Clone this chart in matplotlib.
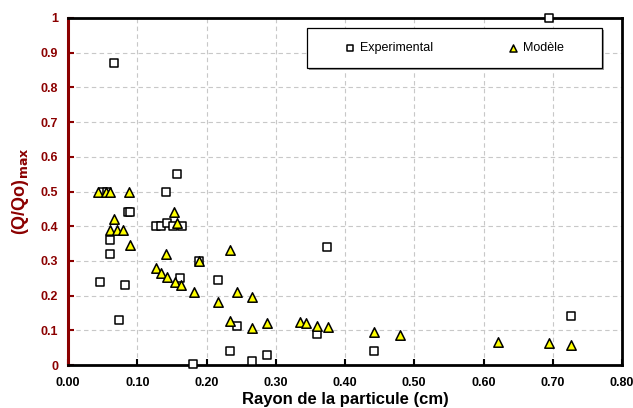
import matplotlib
matplotlib.use("Agg")
import matplotlib.pyplot as plt
from matplotlib.ticker import FixedLocator
from matplotlib.patches import Rectangle

plt.rcParams['font.family'] = ['Liberation Sans', 'DejaVu Sans']

# Experimental data (squares)
exp_x = [0.046, 0.067, 0.051, 0.056, 0.086, 0.090, 0.061, 0.060, 0.082, 0.073,
         0.142, 0.157, 0.127, 0.134, 0.143, 0.151, 0.165, 0.189, 0.162, 0.216,
         0.244, 0.234, 0.265, 0.287, 0.181, 0.374, 0.360, 0.442, 0.727, 0.695]
exp_y = [0.24, 0.87, 0.50, 0.50, 0.44, 0.44, 0.36, 0.32, 0.23, 0.13,
         0.50, 0.55, 0.40, 0.40, 0.41, 0.40, 0.40, 0.30, 0.25, 0.245,
         0.112, 0.04, 0.012, 0.03, 0.004, 0.34, 0.09, 0.04, 0.14, 1.0]

# Model data (triangles)
mod_x = [0.044, 0.055, 0.060, 0.088, 0.067, 0.061, 0.071, 0.080, 0.090, 0.142,
         0.153, 0.157, 0.127, 0.134, 0.143, 0.154, 0.163, 0.182, 0.189, 0.216,
         0.234, 0.244, 0.265, 0.234, 0.265, 0.287, 0.335, 0.343, 0.360, 0.375,
         0.442, 0.479, 0.621, 0.694, 0.727]
mod_y = [0.50, 0.50, 0.50, 0.50, 0.42, 0.39, 0.39, 0.39, 0.345, 0.32,
         0.44, 0.41, 0.28, 0.265, 0.255, 0.24, 0.23, 0.21, 0.30, 0.182,
         0.33, 0.21, 0.195, 0.128, 0.107, 0.12, 0.125, 0.12, 0.113, 0.11,
         0.095, 0.087, 0.066, 0.062, 0.059]

x_ticks = [0.0, 0.1, 0.2, 0.3, 0.4, 0.5, 0.6, 0.7, 0.8]
x_labels = ["0.00", "0.10", "0.20", "0.30", "0.40", "0.50", "0.60", "0.70", "0.80"]
y_ticks = [0.0, 0.1, 0.2, 0.3, 0.4, 0.5, 0.6, 0.7, 0.8, 0.9, 1.0]
y_labels = ["0", "0.1", "0.2", "0.3", "0.4", "0.5", "0.6", "0.7", "0.8", "0.9", "1"]

darkred = "#8b0000"

fig = plt.figure(figsize=(6.33, 4.08), dpi=100)
ax = fig.add_axes([68/633, 43/408, 554/633, 347/408])

ax.scatter(exp_x, exp_y, marker='s', s=36, facecolor='white', edgecolor='black',
           linewidth=1.1, label='Experimental', zorder=3, clip_on=False)
ax.scatter(mod_x, mod_y, marker='^', s=46, facecolor='#ffff00', edgecolor='black',
           linewidth=1.1, label='Modèle', zorder=4, clip_on=False)

ax.set_xlim(0, 0.8)
ax.set_ylim(0, 1)
ax.xaxis.set_major_locator(FixedLocator(x_ticks))
ax.yaxis.set_major_locator(FixedLocator(y_ticks))
ax.set_xticklabels(x_labels, fontsize=9, fontweight='bold')
ax.set_yticklabels(y_labels, fontsize=9, fontweight='bold', color=darkred)

ax.grid(True, linestyle=(0, (4, 3)), color='#c8c8c8', linewidth=0.8, zorder=0)
ax.set_axisbelow(True)

for side in ['top', 'right', 'bottom']:
    ax.spines[side].set_linewidth(2)
    ax.spines[side].set_color('black')
ax.spines['left'].set_linewidth(2.2)
ax.spines['left'].set_color(darkred)

ax.tick_params(axis='x', direction='in', length=4, width=1.5, color='black', pad=9)
ax.tick_params(axis='y', direction='in', length=4, width=1.5, color=darkred, pad=7)

ax.set_xlabel("Rayon de la particule (cm)", fontsize=12, fontweight='bold', labelpad=2)
ax.set_ylabel(r"(Q/Qo)$_{\mathbf{max}}$", fontsize=13, fontweight='bold', color=darkred, labelpad=7)

# legend frame (drawn separately) with slight shadow
x0 = (307 - 68) / 554
x1 = (602 - 68) / 554
y1 = (365 - 28) / 347
y0 = (365 - 68) / 347
shadow = Rectangle((x0 + 2/554, y0 - 2/347), x1 - x0, y1 - y0, transform=ax.transAxes,
                   facecolor='#9a9a9a', edgecolor='none', zorder=5)
frame = Rectangle((x0, y0), x1 - x0, y1 - y0, transform=ax.transAxes,
                  facecolor='white', edgecolor='black', linewidth=0.9, zorder=6)
ax.add_patch(shadow)
ax.add_patch(frame)

leg = ax.legend(loc='center', bbox_to_anchor=((x0 + x1) / 2, (y0 + y1) / 2),
                bbox_transform=ax.transAxes, ncol=2, frameon=False, fontsize=9,
                handlelength=0.8, handletextpad=0.4, columnspacing=6.0,
                markerscale=0.75, borderpad=0, borderaxespad=0)
leg.set_zorder(7)

fig.savefig("out.png", dpi=100)
